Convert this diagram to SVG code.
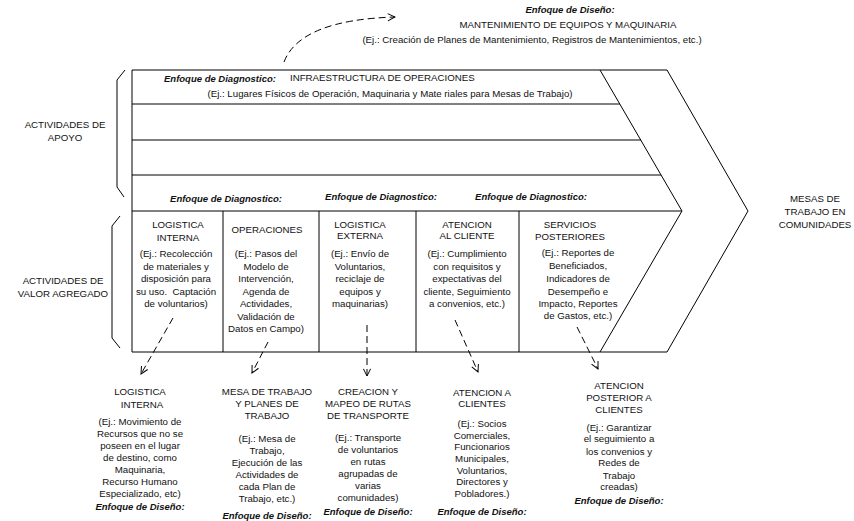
<svg xmlns="http://www.w3.org/2000/svg" width="854" height="521" viewBox="0 0 854 521">
<defs>
<marker id="ah" viewBox="0 0 10 10" refX="9" refY="5" markerWidth="9" markerHeight="9" markerUnits="userSpaceOnUse" orient="auto">
<path d="M1,1 L9,5 L1,9" fill="none" stroke="#000" stroke-width="1.1"/>
</marker>
<style>
text{font-family:"Liberation Sans",Arial,sans-serif;font-size:9.7px;fill:#111}
.m{text-anchor:middle}
.b{font-weight:bold;font-style:italic;font-size:9.5px}
.ln{fill:none;stroke:#000;stroke-width:1}
.ds{fill:none;stroke:#000;stroke-width:1;stroke-dasharray:7 4}
</style>
</defs>
<rect width="854" height="521" fill="#fff"/>

<g id="chain">
<path class="ln" d="M132,70 L667,70 L748,211 L667,352 L132,352 Z"/>
<path class="ln" d="M600,70 L682,211 L600,352"/>
<line class="ln" x1="132" y1="104" x2="620" y2="104"/>
<line class="ln" x1="132" y1="140" x2="641" y2="140"/>
<line class="ln" x1="132" y1="175" x2="661" y2="175"/>
<line class="ln" x1="132" y1="211" x2="682" y2="211"/>
<line class="ln" x1="223" y1="211" x2="223" y2="352"/>
<line class="ln" x1="319" y1="211" x2="319" y2="352"/>
<line class="ln" x1="416" y1="211" x2="416" y2="352"/>
<line class="ln" x1="519" y1="211" x2="519" y2="352"/>
</g>

<g id="braces">
<path class="ln" d="M125,70 L117,80 L117,187 L124,197"/>
<path class="ln" d="M120,216 L112,226 L112,338 L120,348"/>
</g>

<g id="labels-left">
<text class="m" x="65" y="128">ACTIVIDADES DE</text>
<text class="m" x="65" y="141">APOYO</text>
<text class="m" x="63" y="284">ACTIVIDADES DE</text>
<text class="m" x="63" y="297">VALOR AGREGADO</text>
</g>

<g id="result">
<text class="m" x="815" y="202">MESAS DE</text>
<text class="m" x="815" y="215">TRABAJO EN</text>
<text class="m" x="815" y="228">COMUNIDADES</text>
</g>

<g id="support-infra">
<text class="b" x="164" y="82">Enfoque de Diagnostico:</text>
<text x="290" y="81">INFRAESTRUCTURA DE OPERACIONES</text>
<text class="m" x="390" y="97">(Ej.: Lugares Físicos de Operación, Maquinaria y Mate riales para Mesas de Trabajo)</text>
</g>

<g id="support-headers">
<text class="b m" x="226" y="202">Enfoque de Diagnostico:</text>
<text class="b m" x="381" y="200">Enfoque de Diagnostico:</text>
<text class="b m" x="531" y="200">Enfoque de Diagnostico:</text>
</g>

<g id="p1">
<text class="m" x="178" y="228">LOGISTICA</text>
<text class="m" x="178" y="241">INTERNA</text>
<text class="m" x="176" y="257">(Ej.: Recolección</text>
<text class="m" x="176" y="269.5">de materiales y</text>
<text class="m" x="176" y="282">disposición para</text>
<text class="m" x="176" y="294.5">su uso.&#160; Captación</text>
<text class="m" x="176" y="307">de voluntarios)</text>
</g>

<g id="p2">
<text class="m" x="267" y="233">OPERACIONES</text>
<text class="m" x="266" y="257">(Ej.: Pasos del</text>
<text class="m" x="266" y="269.5">Modelo de</text>
<text class="m" x="266" y="282">Intervención,</text>
<text class="m" x="266" y="294.5">Agenda de</text>
<text class="m" x="266" y="307">Actividades,</text>
<text class="m" x="266" y="319.5">Validación de</text>
<text class="m" x="266" y="332">Datos en Campo)</text>
</g>

<g id="p3">
<text class="m" x="360" y="228">LOGISTICA</text>
<text class="m" x="360" y="239">EXTERNA</text>
<text class="m" x="360" y="257">(Ej.: Envío de</text>
<text class="m" x="360" y="269.5">Voluntarios,</text>
<text class="m" x="360" y="282">reciclaje de</text>
<text class="m" x="360" y="294.5">equipos y</text>
<text class="m" x="360" y="307">maquinarias)</text>
</g>

<g id="p4">
<text class="m" x="467" y="228">ATENCION</text>
<text class="m" x="467" y="239">AL CLIENTE</text>
<text class="m" x="467" y="257">(Ej.: Cumplimiento</text>
<text class="m" x="467" y="269.5">con requisitos y</text>
<text class="m" x="467" y="282">expectativas del</text>
<text class="m" x="467" y="294.5">cliente, Seguimiento</text>
<text class="m" x="467" y="307">a convenios, etc.)</text>
</g>

<g id="p5">
<text class="m" x="570" y="228">SERVICIOS</text>
<text class="m" x="570" y="240">POSTERIORES</text>
<text class="m" x="578" y="256">(Ej.: Reportes de</text>
<text class="m" x="578" y="269">Beneficiados,</text>
<text class="m" x="578" y="282">Indicadores de</text>
<text class="m" x="578" y="294.5">Desempeño e</text>
<text class="m" x="578" y="307">Impacto, Reportes</text>
<text class="m" x="578" y="319">de Gastos, etc.)</text>
</g>

<g id="connectors">
<path class="ds" d="M284,62 Q300,20 395,17" marker-end="url(#ah)"/>
<line class="ds" x1="173" y1="318" x2="141" y2="374" marker-end="url(#ah)"/>
<line class="ds" x1="268" y1="342" x2="252" y2="373" marker-end="url(#ah)"/>
<line class="ds" x1="367" y1="325" x2="367" y2="376" marker-end="url(#ah)"/>
<line class="ds" x1="455" y1="320" x2="478" y2="372" marker-end="url(#ah)"/>
<line class="ds" x1="577" y1="327" x2="598" y2="369" marker-end="url(#ah)"/>
</g>

<g id="d-top">
<text class="b m" x="570" y="13">Enfoque de Diseño:</text>
<text class="m" x="568" y="28">MANTENIMIENTO DE EQUIPOS Y MAQUINARIA</text>
<text class="m" x="532" y="43">(Ej.: Creación de Planes de Mantenimiento, Registros de Mantenimientos, etc.)</text>
</g>

<g id="d1">
<text class="m" x="140" y="395">LOGISTICA</text>
<text class="m" x="142" y="408">INTERNA</text>
<text class="m" x="140" y="425">(Ej.: Movimiento de</text>
<text class="m" x="140" y="437">Recursos que no se</text>
<text class="m" x="140" y="449">poseen en el lugar</text>
<text class="m" x="140" y="461">de destino, como</text>
<text class="m" x="140" y="473">Maquinaria,</text>
<text class="m" x="140" y="485">Recurso Humano</text>
<text class="m" x="140" y="497">Especializado, etc)</text>
<text class="b m" x="140" y="510">Enfoque de Diseño:</text>
</g>

<g id="d2">
<text class="m" x="267" y="395">MESA DE TRABAJO</text>
<text class="m" x="267" y="407">Y PLANES DE</text>
<text class="m" x="267" y="419">TRABAJO</text>
<text class="m" x="267" y="442">(Ej.: Mesa de</text>
<text class="m" x="267" y="454">Trabajo,</text>
<text class="m" x="267" y="466">Ejecución de las</text>
<text class="m" x="267" y="478">Actividades de</text>
<text class="m" x="267" y="490">cada Plan de</text>
<text class="m" x="267" y="502">Trabajo, etc.)</text>
<text class="b m" x="267" y="519">Enfoque de Diseño:</text>
</g>

<g id="d3">
<text class="m" x="368" y="395">CREACION Y</text>
<text class="m" x="368" y="407">MAPEO DE RUTAS</text>
<text class="m" x="368" y="419">DE TRANSPORTE</text>
<text class="m" x="368" y="441">(Ej.: Transporte</text>
<text class="m" x="368" y="453">de voluntarios</text>
<text class="m" x="368" y="465">en rutas</text>
<text class="m" x="368" y="477">agrupadas de</text>
<text class="m" x="368" y="489">varias</text>
<text class="m" x="368" y="501">comunidades)</text>
<text class="b m" x="368" y="515">Enfoque de Diseño:</text>
</g>

<g id="d4">
<text class="m" x="482" y="396">ATENCION A</text>
<text class="m" x="482" y="407">CLIENTES</text>
<text class="m" x="482" y="427">(Ej.: Socios</text>
<text class="m" x="482" y="439">Comerciales,</text>
<text class="m" x="482" y="450">Funcionarios</text>
<text class="m" x="482" y="462">Municipales,</text>
<text class="m" x="482" y="474">Voluntarios,</text>
<text class="m" x="482" y="485">Directores y</text>
<text class="m" x="482" y="497">Pobladores.)</text>
<text class="b m" x="482" y="515">Enfoque de Diseño:</text>
</g>

<g id="d5">
<text class="m" x="619" y="389">ATENCION</text>
<text class="m" x="619" y="401">POSTERIOR A</text>
<text class="m" x="619" y="413">CLIENTES</text>
<text class="m" x="619" y="431">(Ej.: Garantizar</text>
<text class="m" x="619" y="442">el seguimiento a</text>
<text class="m" x="619" y="455">los convenios y</text>
<text class="m" x="619" y="466">Redes de</text>
<text class="m" x="619" y="479">Trabajo</text>
<text class="m" x="619" y="490">creadas)</text>
<text class="b m" x="619" y="504">Enfoque de Diseño:</text>
</g>
</svg>
